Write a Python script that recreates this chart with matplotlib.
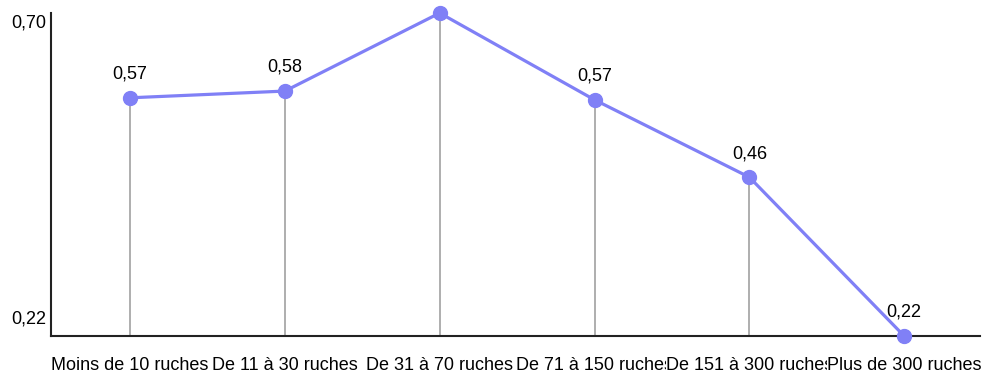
import matplotlib
matplotlib.use("Agg")
import matplotlib.pyplot as plt
from matplotlib.transforms import blended_transform_factory

plt.rcParams['font.family'] = ['Liberation Sans', 'DejaVu Sans']

categories = ["Moins de 10 ruches", "De 11 à 30 ruches", "De 31 à 70 ruches",
              "De 71 à 150 ruches", "De 151 à 300 ruches", "Plus de 300 ruches"]
values = [0.574, 0.584, 0.70, 0.571, 0.456, 0.22]
y_ticks = [0.22, 0.70]

FS = 13

fig = plt.figure(figsize=(9.82, 3.74), dpi=100)
ax = fig.add_axes([0.052, 0.1016, 0.946, 0.8636])

xs = list(range(len(categories)))
ax.set_xlim(-0.51, 5.49)
ax.set_ylim(min(y_ticks), max(y_ticks))

line_color = '#8080f6'
for x, v in zip(xs, values):
    ax.plot([x, x], [min(y_ticks), v], color='#999999', lw=1.1, zorder=1, clip_on=False)
ax.plot(xs, values, color=line_color, lw=2.3, marker='o', markersize=10,
        zorder=3, clip_on=False)

for x, v in zip(xs, values):
    if v >= max(y_ticks):
        continue
    ax.annotate(f"{v:.2f}".replace('.', ','), (x, v), xytext=(0, 17),
                textcoords='offset points', ha='center', va='center', fontsize=FS)

for s in ['top', 'right']:
    ax.spines[s].set_visible(False)
for s in ['left', 'bottom']:
    ax.spines[s].set_color('#222222')
    ax.spines[s].set_linewidth(1.5)

ax.set_xticks([])
ax.set_yticks([])

trans = blended_transform_factory(ax.transAxes, ax.transData)
ax.text(-0.005, max(y_ticks) - 0.002, f"{max(y_ticks):.2f}".replace('.', ','),
        transform=trans, ha='right', va='top', fontsize=FS)
ax.text(-0.005, min(y_ticks) + 0.012, f"{min(y_ticks):.2f}".replace('.', ','),
        transform=trans, ha='right', va='bottom', fontsize=FS)

xtrans = blended_transform_factory(ax.transData, ax.transAxes)
for x, c in zip(xs, categories):
    ax.text(x, -0.092, c, transform=xtrans, ha='center', va='center', fontsize=FS,
            bbox=dict(facecolor='white', edgecolor='none', pad=0))

fig.savefig("out.png", dpi=100)
